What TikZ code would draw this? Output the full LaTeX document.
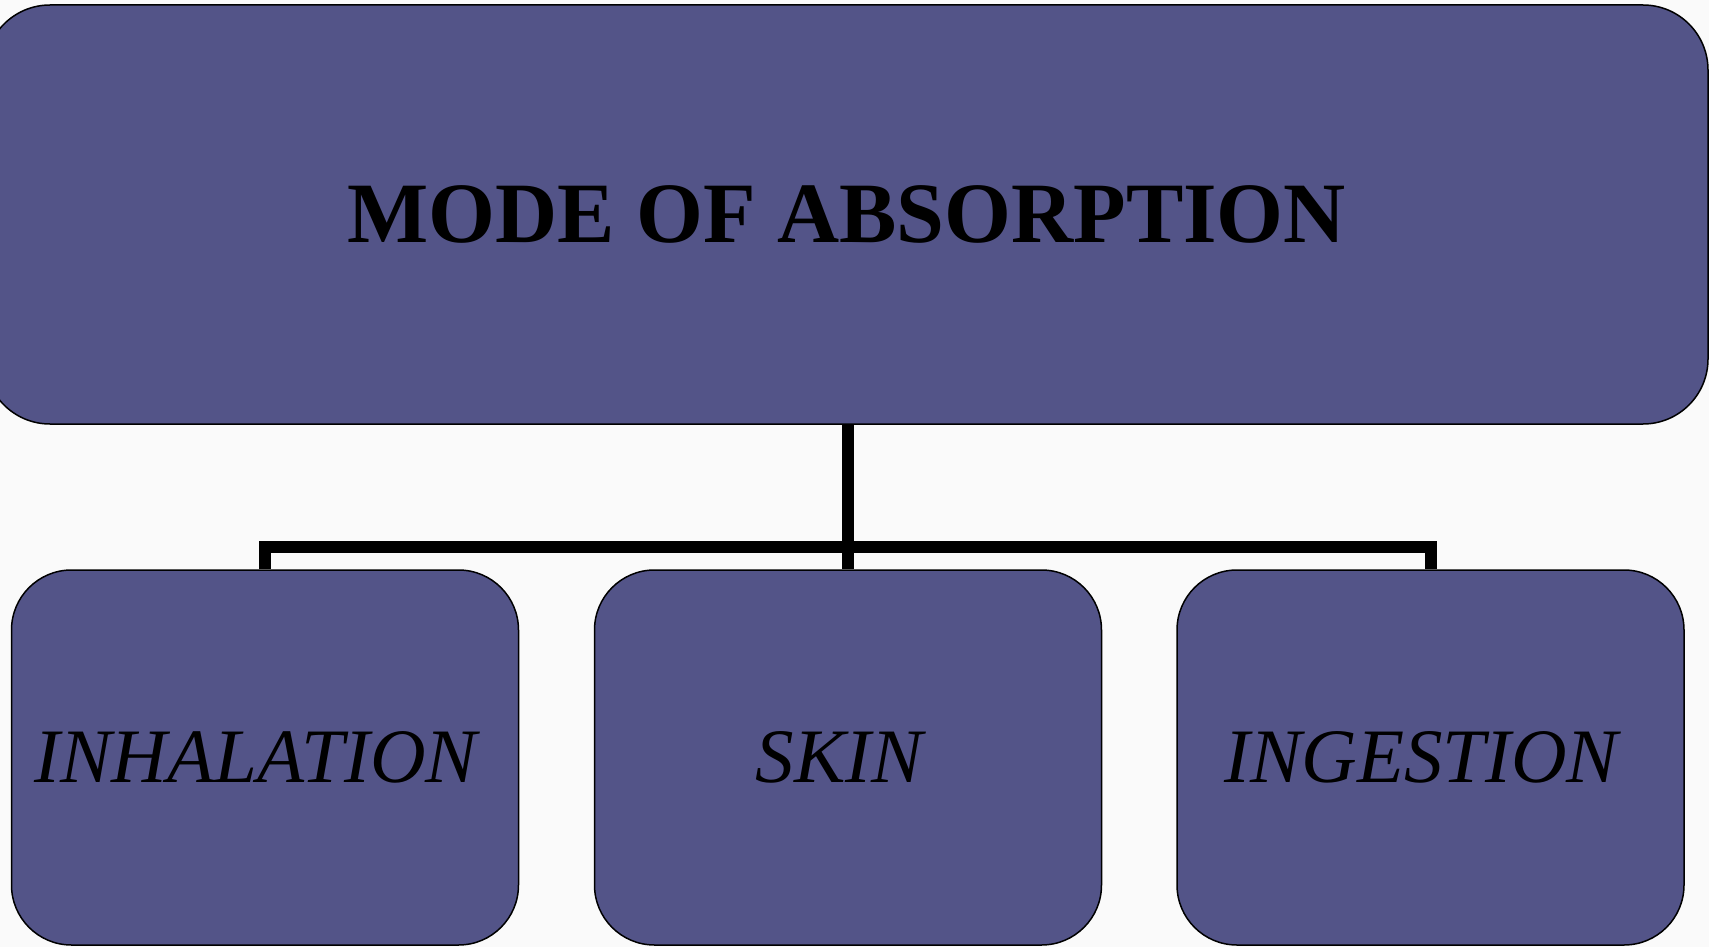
\documentclass[tikz,border=0pt]{standalone}
\usepackage{fontspec}
\setmainfont{Liberation Serif}
\definecolor{boxfill}{RGB}{83,84,136}
\definecolor{paper}{RGB}{250,250,250}
\pgfdeclarelayer{bg}
\pgfdeclarelayer{links}
\pgfsetlayers{bg,links,main}
\newcommand{\myleftnudge}[1]{#1\kern18pt}
\tikzset{
  topbox/.style={draw=black, line width=1.5pt, fill=boxfill, rounded corners=65pt,
    minimum width=1723pt, minimum height=419pt, inner sep=0pt,
    font=\fontsize{86}{100}\selectfont\bfseries},
  subbox/.style={draw=black, line width=1.5pt, fill=boxfill, rounded corners=60pt,
    minimum width=507pt, minimum height=375pt, inner sep=0pt,
    font=\fontsize{77}{90}\selectfont\itshape},
  link/.style={line width=12pt, draw=black, line join=miter}
}
\begin{document}
\begin{tikzpicture}[x=1pt, y=-1pt]
  \begin{pgfonlayer}{bg}
    \fill[paper] (0,0) rectangle (1709,947);
  \end{pgfonlayer}
  \useasboundingbox (0,0) rectangle (1709,947);
  \node[topbox] (top) at (846.5,214.5) {MODE OF ABSORPTION};
  \node[subbox] (inh) at (265,757.5) {\myleftnudge{INHALATION}};
  \node[subbox] (skin) at (848,757.5) {\myleftnudge{SKIN}};
  \node[subbox] (ing) at (1430.5,757.5) {\myleftnudge{INGESTION}};
  \coordinate (hub) at (848,547);
  \begin{pgfonlayer}{links}
    \draw[link] (top.south -| hub) -- (skin.north -| hub);
    \draw[link] (inh.north) |- (hub) -| (ing.north);
  \end{pgfonlayer}
\end{tikzpicture}
\end{document}
